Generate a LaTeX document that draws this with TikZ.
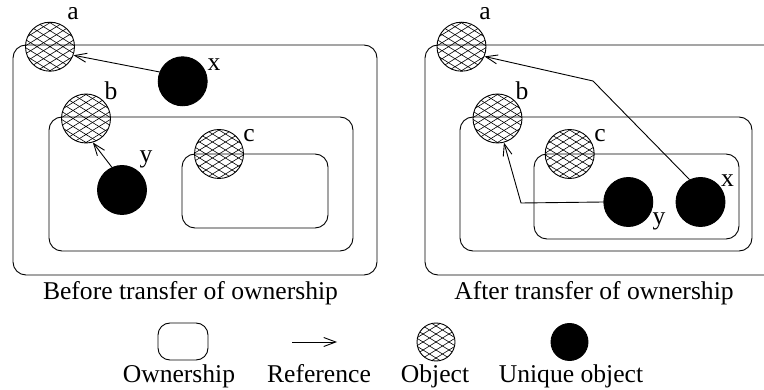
\documentclass[tikz,border=0pt]{standalone}
\usepackage{fontspec}
\setmainfont{Liberation Serif}
\usetikzlibrary{arrows.meta}
\tikzset{
  lw/.style={line width=0.9pt},
  ownbox/.style={draw, lw, rounded corners=13pt, inner sep=0pt, minimum width=#1},
  objnode/.style={circle, draw, lw, inner sep=0pt, minimum size=#1,
    path picture={
      \foreach \k in {-6,...,6}{
        \draw[line width=0.6pt, shift={(path picture bounding box.center)}]
          (-30,8*\k-18.5) -- (30,8*\k+18.5)
          (-30,8*\k+18.5) -- (30,8*\k-18.5);
      }}},
  objnode/.default=49pt,
  uninode/.style={circle, fill=black, draw, lw, inner sep=0pt, minimum size=#1},
  uninode/.default=49pt,
  ref/.style={lw, -{Straight Barb[length=12pt,width=9pt,line width=0.9pt]}},
  lbl/.style={anchor=base, inner sep=0pt, font=\fontsize{25.6}{30}\selectfont},
}
\begin{document}
\begin{tikzpicture}[x=1pt,y=-1pt]
\useasboundingbox (0,0) rectangle (764,390);
% ---------- left panel ----------
\node[ownbox=364pt, minimum height=230pt] (LO) at (195,160) {};
\node[ownbox=304pt, minimum height=134pt] (LM) at (201,184) {};
\node[ownbox=146pt, minimum height=74pt] (LI) at (255,191) {};
\node[objnode] (La) at (50,46.7) {};
\node[objnode] (Lb) at (86,118.5) {};
\node[objnode] (Lc) at (219,154) {};
\node[uninode] (Lx) at (182.7,81.3) {};
\node[uninode] (Ly) at (122,190) {};
\node[lbl] (La-l) at (73,20) {a};
\node[lbl] (Lb-l) at (111,100) {b};
\node[lbl] (Lc-l) at (249,142) {c};
\node[lbl] (Lx-l) at (214,71) {x};
\node[lbl] (Ly-l) at (146,163) {y};
\draw[ref] (Lx.158) -- (La.-20);
\draw[ref] (Ly.114) -- (Lb.-74);
\node[lbl] (Lcap) at (190.5,300) {Before transfer of ownership};
% ---------- right panel ----------
\draw[lw] (764,45) -- (438,45) arc[start angle=90, end angle=180, radius=13pt]
  -- (425,262) arc[start angle=180, end angle=270, radius=13pt] -- (764,275);
\node[ownbox=292pt, minimum height=134pt] (RM) at (606,184) {};
\node[ownbox=205pt, minimum height=85pt] (RI) at (636.5,196.5) {};
\node[objnode] (Ra) at (461.5,46.7) {};
\node[objnode] (Rb) at (497.5,118.5) {};
\node[objnode] (Rc) at (569.7,154) {};
\node[uninode] (Ry) at (628.3,202) {};
\node[uninode] (Rx) at (700.5,202) {};
\node[lbl] (Ra-l) at (485,20) {a};
\node[lbl] (Rb-l) at (522,100) {b};
\node[lbl] (Rc-l) at (600,142) {c};
\node[lbl] (Rx-l) at (727.5,187) {x};
\node[lbl] (Ry-l) at (659,225) {y};
\coordinate (bendx) at (593,81);
\coordinate (bendy) at (521,203);
\draw[ref] (Rx.116) -- (bendx) -- (Ra.-23);
\draw[ref] (Ry.west) -- (bendy) -- (Rb.-75);
\node[lbl] (Rcap) at (594,300) {After transfer of ownership};
% ---------- legend ----------
\node[ownbox=50pt, minimum height=37pt, rounded corners=12pt] (Gown) at (183,341.5) {};
\coordinate (Gr1) at (292,342);
\coordinate (Gr2) at (337,342);
\draw[ref] (Gr1) -- (Gr2);
\node[objnode=38pt] (Gobj) at (436,342) {};
\node[uninode=37pt] (Guni) at (569.5,342) {};
\node[lbl] (Gl1) at (179,383) {Ownership};
\node[lbl] (Gl2) at (319,383) {Reference};
\node[lbl] (Gl3) at (435,383) {Object};
\node[lbl] (Gl4) at (571,383) {Unique object};
\end{tikzpicture}
\end{document}
